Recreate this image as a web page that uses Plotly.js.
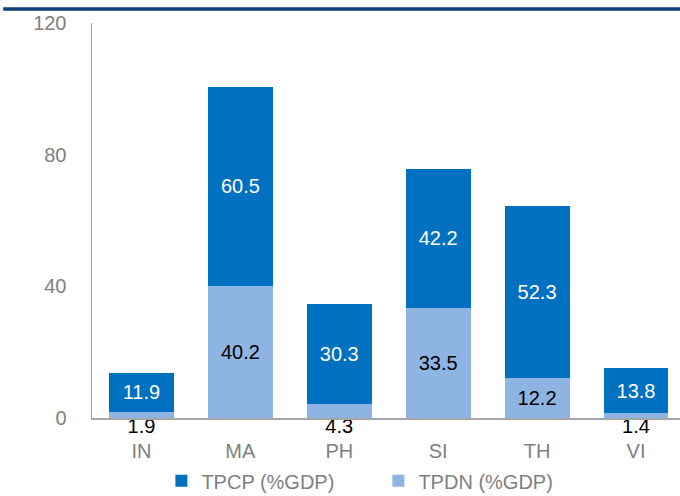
<!DOCTYPE html>
<html>
<head>
<meta charset="utf-8">
<script src="https://cdn.plot.ly/plotly-3.0.1.min.js"></script>
<style>html,body{margin:0;padding:0;background:#fff;}#chart{width:680px;height:496px;}</style>
</head>
<body>
<div id="chart"></div>
<script>
const categories = ["IN", "MA", "PH", "SI", "TH", "VI"];
const tpdn = [1.9, 40.2, 4.3, 33.5, 12.2, 1.4];
const tpcp = [11.9, 60.5, 30.3, 42.2, 52.3, 13.8];
const yTicks = [0, 40, 80, 120];
const seriesNames = ["TPCP (%GDP)", "TPDN (%GDP)"];

const FONT = "Liberation Sans, Arial, sans-serif";
const SMALL = 10;

const smallCats = categories.filter((c, i) => tpdn[i] < SMALL);
const smallVals = tpdn.filter(v => v < SMALL);

const traces = [
  {
    type: "bar", name: seriesNames[1], x: categories, y: tpdn,
    marker: {color: "#8EB4E3"},
    text: tpdn.map(v => v >= SMALL ? v.toFixed(1) : ""),
    textposition: "inside", insidetextanchor: "middle",
    textfont: {family: FONT, size: 20, color: "#000000"},
    hoverinfo: "skip"
  },
  {
    type: "bar", name: seriesNames[0], x: categories, y: tpcp,
    marker: {color: "#0070C0"},
    text: tpcp.map(v => v.toFixed(1)),
    textposition: "inside", insidetextanchor: "middle",
    textfont: {family: FONT, size: 20, color: "#ffffff"},
    hoverinfo: "skip"
  },
  {
    type: "scatter", mode: "text", x: smallCats, y: smallCats.map(() => 0),
    text: smallVals.map(v => v.toFixed(1)),
    textposition: "bottom center",
    textfont: {family: FONT, size: 20, color: "#000000"},
    showlegend: false, cliponaxis: false, hoverinfo: "skip"
  }
];

const layout = {
  width: 680, height: 496,
  margin: {l: 92, r: 0, t: 23, b: 78, autoexpand: false},
  barmode: "stack", bargap: 0.343,
  paper_bgcolor: "#ffffff", plot_bgcolor: "#ffffff",
  font: {family: FONT, size: 20, color: "#7f7f7f"},
  xaxis: {
    type: "category", range: [-0.5, 5.445],
    showline: true, linecolor: "#a6a6a6", linewidth: 1.5,
    ticks: "", showgrid: false, zeroline: false,
    tickfont: {family: FONT, size: 20, color: "#7f7f7f"},
    ticklabelstandoff: 14
  },
  yaxis: {
    range: [0, 120], tickvals: yTicks, ticktext: yTicks.map(String),
    showline: true, linecolor: "#a6a6a6", linewidth: 1.5,
    ticks: "", showgrid: false, zeroline: false,
    tickfont: {family: FONT, size: 20, color: "#7f7f7f"},
    ticklabelstandoff: 20
  },
  showlegend: true,
  legend: {
    orientation: "h", traceorder: "reversed",
    x: 0.118, xanchor: "left", y: -0.159, yanchor: "middle",
    font: {family: FONT, size: 20, color: "#7f7f7f"},
    entrywidth: 172, bgcolor: "rgba(0,0,0,0)"
  },
  shapes: [{
    type: "line", xref: "paper", yref: "paper",
    x0: -0.151, x1: 1, y0: 1.0354, y1: 1.0354,
    line: {color: "#0b3f7a", width: 3.5}
  }]
};

Plotly.newPlot("chart", traces, layout, {displayModeBar: false, staticPlot: true});
</script>
</body>
</html>
